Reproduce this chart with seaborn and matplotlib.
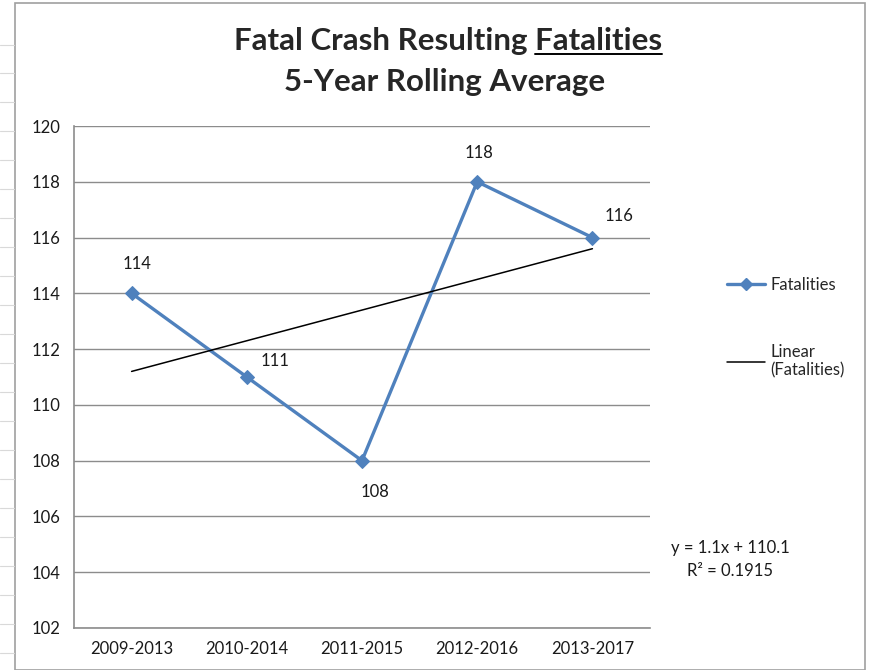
import numpy as np
import pandas as pd
import matplotlib
matplotlib.use("Agg")
import matplotlib.pyplot as plt
import seaborn as sns
from matplotlib.lines import Line2D
from matplotlib.patches import Rectangle

periods = ["2009-2013", "2010-2014", "2011-2015", "2012-2016", "2013-2017"]
fatalities = [114, 111, 108, 118, 116]
yticks = [102, 104, 106, 108, 110, 112, 114, 116, 118, 120]
title_line1 = "Fatal Crash Resulting "
title_underlined = "Fatalities"
title_line2 = "5-Year Rolling Average"
equation = "y = 1.1x + 110.1"
r2_text = "R² = 0.1915"

sns.set_style("white")
plt.rcParams["font.family"] = ["Lato", "DejaVu Sans"]

BLUE = "#4F81BD"
GRID = "#8C8C8C"
TXT = "#1a1a1a"
FS = 12

df = pd.DataFrame({"idx": np.arange(len(periods)), "period": periods, "Fatalities": fatalities})

fig = plt.figure(figsize=(8.75, 6.7), dpi=100)
ax = fig.add_axes([74/875, 1-628/670, (650-74)/875, (628-126)/670])

# background spreadsheet decorations
fig.patches.append(Rectangle((15/875, 0), (865-15)/875, 1-3/670, transform=fig.transFigure,
                             fill=False, edgecolor="#A0A0A0", lw=1.2, zorder=0))
for yy in [45, 73, 102, 131, 160, 189, 218, 247, 276, 305, 334, 363, 392, 421, 450, 479, 508, 537, 566, 595, 624, 653]:
    fig.add_artist(Line2D([0, 14/875], [1-yy/670, 1-yy/670], color="#D9D9D9", lw=0.8, transform=fig.transFigure))

sns.lineplot(data=df, x="idx", y="Fatalities", ax=ax, color=BLUE, lw=2.4,
             marker="D", markersize=7, markeredgecolor=BLUE, label="Fatalities", legend=False)
sns.regplot(data=df, x="idx", y="Fatalities", ax=ax, scatter=False, ci=None, truncate=True,
            line_kws=dict(color="black", lw=1.1), label="Linear\n(Fatalities)")

# data labels (pixel offsets from the points)
offsets = [(5, 29), (28, 16), (13, -31), (2, 29), (27, 22)]
for i, (v, (dx, dy)) in enumerate(zip(fatalities, offsets)):
    ax.annotate(str(v), (i, v), xytext=(dx, dy), textcoords="offset pixels",
                ha="center", va="center", fontsize=FS, color=TXT)

ax.set_xlim(-0.5, len(periods) - 0.5)
ax.set_ylim(102, 120)
ax.set_yticks(yticks)
ax.set_yticklabels([str(t) for t in yticks], fontsize=FS, color=TXT)
ax.set_xticks(np.arange(len(periods)))
ax.set_xticklabels(periods, fontsize=FS, color=TXT)
ax.set_xticks(np.arange(len(periods) + 1) - 0.5, minor=True)
ax.tick_params(axis="x", which="major", length=0, pad=9)
ax.tick_params(axis="x", which="minor", length=5, color=GRID, width=1.2, direction="out")
ax.tick_params(axis="y", length=5, color=GRID, width=1.2, direction="out", pad=5)
ax.set_xlabel("")
ax.set_ylabel("")
ax.grid(axis="y", color=GRID, lw=1.0)
ax.set_axisbelow(True)
for s in ["top", "right"]:
    ax.spines[s].set_visible(False)
for s in ["left", "bottom"]:
    ax.spines[s].set_color(GRID)
    ax.spines[s].set_linewidth(1.2)

# legend
handles = [Line2D([], [], color=BLUE, lw=2.4, marker="D", markersize=6),
           Line2D([], [], color="black", lw=1.1)]
fig.legend(handles, ["Fatalities", "Linear\n(Fatalities)"], loc="upper left",
           bbox_to_anchor=(712/875, 1-262/670), frameon=False, fontsize=FS,
           labelspacing=3.05, handlelength=2.3, handletextpad=0.3)

# trendline equation
fig.text(730/875, 1-548/670, equation, ha="center", va="center", fontsize=FS, color=TXT)
fig.text(730/875, 1-571/670, r2_text, ha="center", va="center", fontsize=FS, color=TXT)

# title with underlined word
tfs = 22.5
cx = 448/875
y1 = 1-41/670
full = fig.text(cx, y1, title_line1 + title_underlined, ha="center", va="center",
                fontsize=tfs, fontweight="bold")
fig.text(cx - 3/875, 1-82/670, title_line2, ha="center", va="center", fontsize=tfs, fontweight="bold")
fig.canvas.draw()
r = fig.canvas.get_renderer()
bb = full.get_window_extent(r)
tmp = fig.text(0, 0, title_underlined, fontsize=tfs, fontweight="bold")
wb = tmp.get_window_extent(r)
tmp.remove()
x1 = bb.x1 / fig.bbox.width
x0 = (bb.x1 - wb.width) / fig.bbox.width
uy = (bb.y0 + 1) / fig.bbox.height
fig.add_artist(Line2D([x0, x1], [uy, uy], color="black", lw=1.4, transform=fig.transFigure))

fig.savefig("out.png", dpi=100)
